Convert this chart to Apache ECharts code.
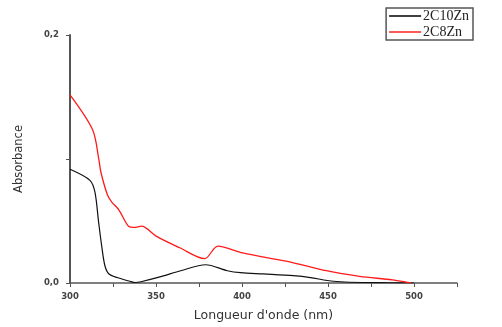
<!DOCTYPE html>
<html>
<head>
<meta charset="utf-8">
<script src="https://cdn.jsdelivr.net/npm/echarts@6/dist/echarts.min.js"></script>
<style>
  html, body { margin: 0; padding: 0; background: #fff; }
  #chart { width: 502px; height: 327px; }
</style>
</head>
<body>
<div id="chart"></div>
<script>
// spectres UV-vis
var c10Wavelength = [300, 311.6, 314.5, 316.6, 318.6, 320.3, 322.5, 327.3, 334.8, 338, 341.2, 352.8, 364.4, 378.9, 391.5, 399.2, 412.5, 429.9, 439.8, 449.5, 457.2, 470, 485, 500];
var c10Absorbance = [0.0917, 0.0828, 0.0733, 0.0495, 0.0281, 0.0139, 0.0075, 0.0044, 0.0014, 0.0004, 0.0010, 0.0051, 0.0099, 0.0147, 0.0099, 0.0083, 0.0073, 0.0059, 0.0044, 0.0020, 0.0010, 0.0004, 0.0002, 0.0];

var c8Wavelength = [300, 313.2, 316.8, 318, 321.8, 324.3, 328.4, 334.2, 337.1, 341.6, 350.3, 363.8, 378.3, 385.9, 400.4, 414.2, 429.4, 449, 468.3, 487.4, 498.3];
var c8Absorbance = [0.1517, 0.1234, 0.0994, 0.0891, 0.0709, 0.0653, 0.0590, 0.0455, 0.0448, 0.0458, 0.0376, 0.0284, 0.0196, 0.0297, 0.0242, 0.0204, 0.0165, 0.0099, 0.0054, 0.0025, 0.0];

var seriesNames = ['2C10Zn', '2C8Zn'];
var xLabels = [300, 350, 400, 450, 500];
var yLabels = [0, 0.2];

function pairs(xs, ys) {
  return xs.map(function (x, i) { return [x, ys[i]]; });
}

var chart = echarts.init(document.getElementById('chart'));

var axisColor = '#555';
var option = {
  animation: false,
  grid: { left: 70, right: 45, top: 35, bottom: 39.5 },
  legend: {
    orient: 'vertical',
    right: 29,
    top: 8,
    padding: [1, 4, 1, 3],
    itemGap: 2,
    itemWidth: 32,
    itemHeight: 1.5,
    icon: 'rect',
    borderColor: '#555',
    borderWidth: 1.5,
    textStyle: { fontFamily: 'Liberation Serif', fontSize: 14, color: '#222', padding: [0, 0, 0, -3] },
    data: seriesNames
  },
  xAxis: {
    type: 'value',
    min: 300,
    max: 525,
    interval: 25,
    name: "Longueur d'onde (nm)",
    nameLocation: 'middle',
    nameGap: 26,
    nameTextStyle: { fontFamily: 'DejaVu Sans', fontSize: 12.5, color: '#333' },
    splitLine: { show: false },
    axisLine: { lineStyle: { color: axisColor, width: 1.5 } },
    axisTick: { length: 4, lineStyle: { color: axisColor } },
    axisLabel: {
      fontFamily: 'DejaVu Sans', fontSize: 8.5, fontWeight: 'bold', color: '#444', margin: 9,
      formatter: function (v) { return xLabels.indexOf(v) >= 0 ? String(v) : ''; }
    }
  },
  yAxis: {
    type: 'value',
    min: 0,
    max: 0.2,
    interval: 0.1,
    name: 'Absorbance',
    nameLocation: 'middle',
    nameGap: 45,
    nameTextStyle: { fontFamily: 'DejaVu Sans', fontSize: 11.5, color: '#333' },
    splitLine: { show: false },
    axisLine: { show: true, lineStyle: { color: axisColor, width: 2 } },
    axisTick: { show: true, length: 4, lineStyle: { color: axisColor } },
    axisLabel: {
      fontFamily: 'DejaVu Sans', fontSize: 8.5, fontWeight: 'bold', color: '#444', margin: 11,
      formatter: function (v) {
        var r = Math.round(v * 10) / 10;
        return yLabels.indexOf(r) >= 0 ? r.toFixed(1).replace('.', ',') : '';
      }
    }
  },
  series: [
    {
      name: seriesNames[0],
      type: 'line',
      data: pairs(c10Wavelength, c10Absorbance),
      showSymbol: false,
      smooth: 0.3,
      color: '#000',
      lineStyle: { width: 1.2, color: '#111' }
    },
    {
      name: seriesNames[1],
      type: 'line',
      data: pairs(c8Wavelength, c8Absorbance),
      showSymbol: false,
      smooth: 0.3,
      color: '#ff2020',
      lineStyle: { width: 1.3, color: '#ff1a1a' }
    }
  ]
};
chart.setOption(option);
</script>
</body>
</html>
